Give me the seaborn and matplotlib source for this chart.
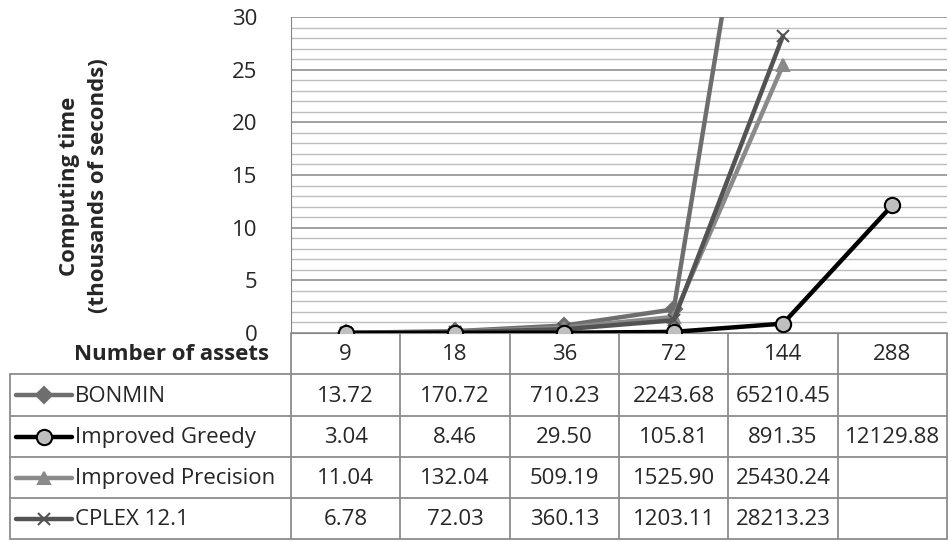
import numpy as np
import matplotlib.pyplot as plt
import matplotlib.ticker as mticker
import seaborn as sns
import pandas as pd

# data (seconds)
assets = ['9', '18', '36', '72', '144', '288']
bonmin = [13.72, 170.72, 710.23, 2243.68, 65210.45, np.nan]
greedy = [3.04, 8.46, 29.50, 105.81, 891.35, 12129.88]
precision = [11.04, 132.04, 509.19, 1525.90, 25430.24, np.nan]
cplex = [6.78, 72.03, 360.13, 1203.11, 28213.23, np.nan]

series_names = ['BONMIN', 'Improved Greedy', 'Improved Precision', 'CPLEX 12.1']
series_vals = [bonmin, greedy, precision, cplex]
colors = ['#6e6e6e', '#000000', '#8a8a8a', '#535353']
markers = ['D', 'o', '^', 'x']
draw_order = [0, 2, 3, 1]

sns.set_style('white')
plt.rcParams['font.family'] = ['Open Sans', 'DejaVu Sans']

W, H = 950, 541
fig = plt.figure(figsize=(W / 100, H / 100), dpi=100)

# plot area in pixels
px0, px1, py0, py1 = 291, 947, 17, 333
ax = fig.add_axes([px0 / W, 1 - py1 / H, (px1 - px0) / W, (py1 - py0) / H])

rows = []
for name, vals in zip(series_names, series_vals):
    for a, v in zip(assets, vals):
        rows.append({'assets': a, 'series': name, 'time': v / 1000.0})
df = pd.DataFrame(rows)

def mstyle(i):
    if markers[i] == 'o':
        return dict(markersize=11, markerfacecolor='#bfbfbf', markeredgecolor='#000000')
    return dict(markersize=8.5, markerfacecolor=colors[i], markeredgecolor=colors[i])

for i in draw_order:
    d = df[df['series'] == series_names[i]].reset_index(drop=True)
    d['pos'] = np.arange(len(d))
    sns.lineplot(data=d, x='pos', y='time', ax=ax, color=colors[i], lw=3.2,
                 marker=markers[i], markeredgewidth=1.5, legend=False,
                 zorder=3 + (i == 1), **mstyle(i))

ax.set_xlim(-0.5, len(assets) - 0.5)
ax.set_ylim(0, 30)
ax.yaxis.set_major_locator(mticker.MultipleLocator(5))
ax.yaxis.set_minor_locator(mticker.MultipleLocator(1))
ax.grid(which='major', axis='y', color='#868686', lw=1.1)
ax.grid(which='minor', axis='y', color='#bdbdbd', lw=1.0)
ax.set_axisbelow(True)
ax.set_xticks([])
ax.tick_params(axis='y', which='both', length=0, labelsize=16, pad=24)
for s in ['top', 'right']:
    ax.spines[s].set_visible(False)
ax.spines['left'].set_color('#868686')
ax.spines['bottom'].set_color('#868686')
ax.set_xlabel('')
ax.set_ylabel('')
fig.text(84 / W, 1 - 186 / H, 'Computing time\n(thousands of seconds)', fontsize=16,
         fontweight='bold', rotation=90, ha='center', va='center',
         multialignment='center', linespacing=1.55)

# data table below the plot area
tab = fig.add_axes([0, 0, 1, 1], zorder=-1)
tab.set_xlim(0, W)
tab.set_ylim(H, 0)
tab.axis('off')

cw = (px1 - px0) / len(assets)
col_edges = [px0 + k * cw for k in range(len(assets) + 1)]
row_edges = [py1, 374, 416, 457, 498, 539]
left = 10
gc = '#8c8c8c'
fs = 16

for xe in col_edges:
    tab.plot([xe, xe], [row_edges[0], row_edges[-1]], color=gc, lw=1.3)
tab.plot([left, left], [row_edges[1], row_edges[-1]], color=gc, lw=1.3)
for ye in row_edges[1:]:
    tab.plot([left, px1], [ye, ye], color=gc, lw=1.3)

tab.text(px0 - 22, (row_edges[0] + row_edges[1]) / 2 + 1, 'Number of assets',
         ha='right', va='center', fontsize=fs, fontweight='bold')
for k, a in enumerate(assets):
    tab.text(px0 + (k + 0.5) * cw, (row_edges[0] + row_edges[1]) / 2 + 1, a,
             ha='center', va='center', fontsize=fs)

for r, (name, vals) in enumerate(zip(series_names, series_vals)):
    yc = (row_edges[r + 1] + row_edges[r + 2]) / 2
    tab.plot([16, 72], [yc, yc], color=colors[r], lw=3.2, solid_capstyle='round')
    tab.plot([44], [yc], marker=markers[r], markeredgewidth=1.5, color=colors[r],
             **mstyle(r))
    tab.text(75, yc + 1, name, ha='left', va='center', fontsize=fs)
    for k, v in enumerate(vals):
        if not np.isnan(v):
            tab.text(px0 + (k + 0.5) * cw, yc + 1, f'{v:.2f}',
                     ha='center', va='center', fontsize=fs)

plt.savefig('out.png', dpi=100)
